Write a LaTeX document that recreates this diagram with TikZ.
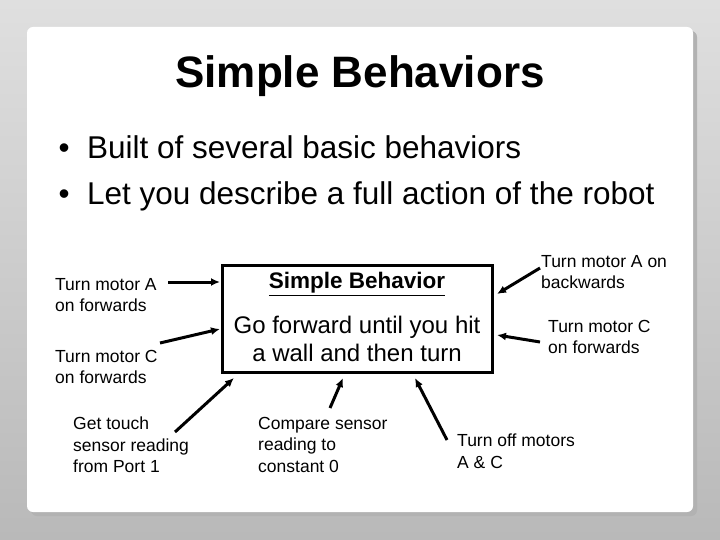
\documentclass[tikz,border=0pt]{standalone}
\usepackage{fontspec}
\setmainfont{Liberation Sans}
\usetikzlibrary{positioning,arrows.meta}
\tikzset{lbl/.style={anchor=north west, align=left, inner sep=0pt, font=\fontsize{17.5}{21.5}\selectfont}}
\tikzset{arr/.style={draw, -{Latex[length=9pt,width=8pt]}, line width=3pt}}
\begin{document}
\begin{tikzpicture}[x=1pt, y=-1pt]
\useasboundingbox (0,0) rectangle (720,540);
\shade[top color=gray!25, bottom color=gray!55] (0,0) rectangle (720,540);
\fill[gray!60, rounded corners=6] (31,31) rectangle (697,516);
\fill[white, rounded corners=6] (27,27) rectangle (693,512);
\node (title) at (360,76) {\fontsize{44}{48}\selectfont\bfseries Simple Behaviors};
\node[anchor=west, align=left, font=\fontsize{31.5}{46}\selectfont] (bul) at (55,173)
  {\textbullet\ \ Built of several basic behaviors\\\textbullet\ \ Let you describe a full action of the robot};
\node[draw, line width=2.5pt, minimum width=270pt, minimum height=107pt] (box) at (357.5,319) {};
\node (sb) at (357,284) {\fontsize{22.5}{26}\selectfont\bfseries\underline{Simple Behavior}};
\node[align=center, font=\fontsize{24}{28}\selectfont] (go) at (357,339) {Go forward until you hit\\a wall and then turn};
\node[lbl] (ma) at (55,278) {Turn motor A\\on forwards};
\node[lbl] (mc) at (55,350) {Turn motor C\\on forwards};
\node[lbl] (touch) at (73,417) {Get touch\\sensor reading\\from Port 1};
\node[lbl] (cmp) at (258,417) {Compare sensor\\reading to\\constant 0};
\node[lbl] (off) at (457,434) {Turn off motors\\A \& C};
\node[lbl] (mab) at (541,255) {Turn motor A on\\backwards};
\node[lbl] (mcf) at (548,320) {Turn motor C\\on forwards};
\coordinate (a1) at (168,282); \coordinate (b1) at (220,282);
\coordinate (a2) at (160,343); \coordinate (b2) at (220,329);
\coordinate (a3) at (175,432); \coordinate (b3) at (234,378);
\coordinate (a4) at (330,408); \coordinate (b4) at (343,378);
\coordinate (a5) at (447,440); \coordinate (b5) at (415,378);
\coordinate (a6) at (540,268); \coordinate (b6) at (497,294);
\coordinate (a7) at (540,342); \coordinate (b7) at (497,335);
\foreach \i in {1,...,7} \draw[arr] (a\i) -- (b\i);
\end{tikzpicture}
\end{document}
